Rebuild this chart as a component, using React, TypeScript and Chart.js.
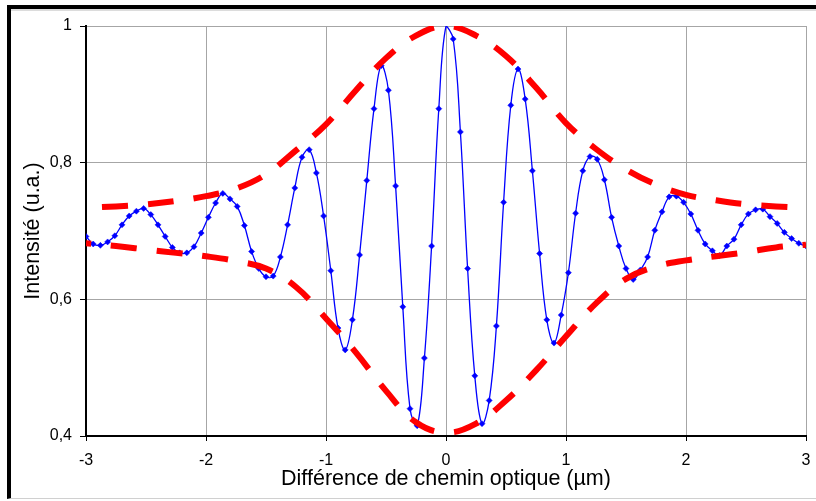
import React, { useEffect, useRef } from "react";
import { Chart, registerables } from "chart.js";

Chart.register(...registerables);

// Optical path difference (µm) of each sample of the interferogram
const pathDifference = [
  -3, -2.94, -2.88, -2.82, -2.76, -2.7, -2.64, -2.58, -2.52, -2.46,
  -2.4, -2.34, -2.28, -2.22, -2.16, -2.1, -2.04, -1.98, -1.92, -1.86,
  -1.8, -1.74, -1.68, -1.62, -1.56, -1.5, -1.44, -1.38, -1.32, -1.26,
  -1.2, -1.14, -1.08, -1.02, -0.96, -0.9, -0.84, -0.78, -0.72, -0.66,
  -0.6, -0.54, -0.48, -0.42, -0.36, -0.3, -0.24, -0.18, -0.12, -0.06,
  0,
  0.06, 0.12, 0.18, 0.24, 0.3, 0.36, 0.42, 0.48, 0.54, 0.6,
  0.66, 0.72, 0.78, 0.84, 0.9, 0.96, 1.02, 1.08, 1.14, 1.2,
  1.26, 1.32, 1.38, 1.44, 1.5, 1.56, 1.62, 1.68, 1.74, 1.8,
  1.86, 1.92, 1.98, 2.04, 2.1, 2.16, 2.22, 2.28, 2.34, 2.4,
  2.46, 2.52, 2.58, 2.64, 2.7, 2.76, 2.82, 2.88, 2.94, 3,
];

// Measured intensity (u.a.)
const intensity = [
  0.692, 0.681, 0.679, 0.684, 0.693, 0.709, 0.722, 0.729, 0.733, 0.724,
  0.709, 0.692, 0.676, 0.668, 0.668, 0.677, 0.697, 0.72, 0.741, 0.755,
  0.747, 0.736, 0.708, 0.67, 0.645, 0.633, 0.634, 0.662, 0.709, 0.763,
  0.808, 0.819, 0.785, 0.722, 0.642, 0.558, 0.526, 0.57, 0.665, 0.774,
  0.879, 0.942, 0.906, 0.766, 0.589, 0.44, 0.415, 0.514, 0.678, 0.879,
  1.0,
  0.981, 0.845, 0.645, 0.488, 0.418, 0.452, 0.561, 0.742, 0.884, 0.937,
  0.893, 0.788, 0.667, 0.57, 0.536, 0.577, 0.639, 0.726, 0.788, 0.809,
  0.805, 0.775, 0.72, 0.678, 0.645, 0.629, 0.643, 0.662, 0.701, 0.728,
  0.75, 0.751, 0.742, 0.725, 0.701, 0.681, 0.671, 0.664, 0.678, 0.688,
  0.709, 0.725, 0.731, 0.732, 0.721, 0.711, 0.698, 0.689, 0.682, 0.678,
];

// Envelope curves (red dashed)
const envelopeX = [
  -3, -2.75, -2.5, -2.25, -2, -1.75, -1.5, -1.25, -1, -0.75, -0.5, -0.25,
  0, 0.25, 0.5, 0.75, 1, 1.25, 1.5, 1.75, 2, 2.25, 2.5, 2.75, 3,
];
const upperEnvelope = [
  0.734, 0.736, 0.739, 0.744, 0.751, 0.762, 0.783, 0.818, 0.856, 0.906, 0.953, 0.986,
  1.0, 0.986, 0.956, 0.91, 0.858, 0.82, 0.79, 0.768, 0.753, 0.745, 0.739, 0.736, 0.734,
];
const lowerEnvelope = [
  0.682, 0.678, 0.673, 0.668, 0.663, 0.656, 0.645, 0.618, 0.572, 0.522, 0.466, 0.42,
  0.405, 0.418, 0.452, 0.496, 0.546, 0.594, 0.63, 0.648, 0.657, 0.663, 0.669, 0.676, 0.68,
];

const xTicks = [-3, -2, -1, 0, 1, 2, 3];
const yTicks = [0.4, 0.6, 0.8, 1];

const FONT = "'Liberation Sans', Arial, sans-serif";

export default function App() {
  const canvasRef = useRef<HTMLCanvasElement | null>(null);

  useEffect(() => {
    const canvas = canvasRef.current;
    if (!canvas) return;
    const chart = new Chart(canvas, {
      type: "line",
      data: {
        datasets: [
          {
            label: "upper",
            data: envelopeX.map((x, i) => ({ x, y: upperEnvelope[i] })),
            borderColor: "#FF0000",
            borderWidth: 6,
            borderDash: [26, 20],
            borderDashOffset: 30,
            borderCapStyle: "butt",
            pointRadius: 0,
            tension: 0.4,
            fill: false,
          },
          {
            label: "lower",
            data: envelopeX.map((x, i) => ({ x, y: lowerEnvelope[i] })),
            borderColor: "#FF0000",
            borderWidth: 6,
            borderDash: [26, 20],
            borderDashOffset: 21,
            borderCapStyle: "butt",
            pointRadius: 0,
            tension: 0.4,
            fill: false,
          },
          {
            label: "signal",
            data: pathDifference.map((x, i) => ({ x, y: intensity[i] })),
            borderColor: "#0000FF",
            borderWidth: 1.3,
            backgroundColor: "#0000FF",
            pointStyle: "rectRot",
            pointRadius: (ctx: any) => (ctx.dataIndex === 50 ? 0 : 3),
            pointBorderWidth: 0.5,
            pointBorderColor: "#0000FF",
            pointBackgroundColor: "#0000FF",
            tension: 0.4,
            fill: false,
          },
        ],
      },
      options: {
        animation: false,
        responsive: false,
        devicePixelRatio: 1,
        layout: { padding: { top: 26, right: 10, left: 0, bottom: 0 } },
        plugins: {
          legend: { display: false },
          tooltip: { enabled: false },
        },
        scales: {
          x: {
            type: "linear",
            min: -3,
            max: 3,
            afterBuildTicks: (scale: any) => {
              scale.ticks = xTicks.map((v) => ({ value: v }));
            },
            afterFit: (scale: any) => {
              scale.height = 65;
              scale.paddingLeft = 0;
              scale.paddingRight = 0;
            },
            ticks: {
              color: "#000",
              font: { family: FONT, size: 16 },
              padding: 10,
              maxRotation: 0,
              callback: (v: any) => String(v),
            },
            grid: {
              color: "#a6a6a6",
              lineWidth: 1,
              tickColor: "#000",
              tickLength: 5,
            },
            border: { color: "#000", width: 2 },
            title: {
              display: true,
              text: "Différence de chemin optique (µm)",
              color: "#000",
              font: { family: FONT, size: 21.5 },
              padding: { top: 0, bottom: 9 },
            },
          },
          y: {
            type: "linear",
            min: 0.4,
            max: 1,
            afterBuildTicks: (scale: any) => {
              scale.ticks = yTicks.map((v) => ({ value: v }));
            },
            afterFit: (scale: any) => {
              scale.width = 86;
              scale.paddingTop = 0;
              scale.paddingBottom = 0;
            },
            ticks: {
              color: "#000",
              font: { family: FONT, size: 16 },
              padding: 8,
              callback: (v: any) => {
                const r = Math.round(Number(v) * 10) / 10;
                return String(r).replace(".", ",");
              },
            },
            grid: {
              color: "#a6a6a6",
              lineWidth: 1,
              tickColor: "#000",
              tickLength: 6,
            },
            border: { color: "#000", width: 2 },
            title: {
              display: true,
              text: "Intensité (u.a.)",
              color: "#000",
              font: { family: FONT, size: 21.5 },
              padding: { top: 20, bottom: 0 },
            },
          },
        },
      },
    } as any);
    return () => chart.destroy();
  }, []);

  return (
    <div
      style={{
        position: "fixed",
        left: 0,
        top: 0,
        width: 816,
        height: 501,
        background: "#fff",
        overflow: "hidden",
      }}
    >
      <div
        style={{
          position: "absolute",
          left: 7,
          top: 5,
          width: 830,
          height: 494,
          boxSizing: "border-box",
          borderLeft: "4px solid #000",
          borderTop: "4px solid #000",
          borderBottom: "1px solid #d0d0d0",
        }}
      >
        <div
          style={{
            position: "absolute",
            left: 0,
            top: 0,
            right: 0,
            height: 2,
            background: "#dcdcdc",
          }}
        />
      </div>
      <canvas
        ref={canvasRef}
        width={816}
        height={501}
        style={{ position: "absolute", left: 0, top: 0, width: 816, height: 501 }}
      />
    </div>
  );
}
